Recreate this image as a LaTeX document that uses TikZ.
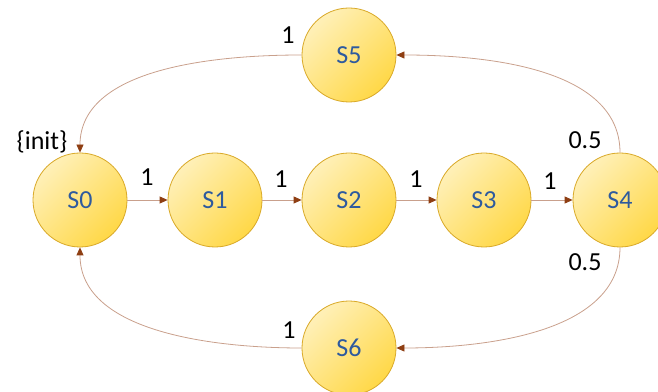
\documentclass[tikz,border=0pt]{standalone}
\usepackage{fontspec}
\setmainfont{Carlito}
\usetikzlibrary{arrows.meta}
\definecolor{stateLight}{HTML}{FFF0B8}
\definecolor{stateDark}{HTML}{FFD847}
\definecolor{stateEdge}{HTML}{D9A928}
\definecolor{stateText}{HTML}{2E5A9E}
\definecolor{wire}{HTML}{C9A08C}
\definecolor{tip}{HTML}{8E3E12}
\begin{document}
\begin{tikzpicture}[x=1pt,y=1pt,
  state/.style={circle, minimum size=94pt, inner sep=0pt, draw=stateEdge, line width=0.8pt,
    top color=stateLight, bottom color=stateDark, shading angle=45,
    text=stateText, font=\fontsize{26}{28}\selectfont},
  trans/.style={draw=wire, line width=0.8pt, -{Triangle[length=8pt,width=7pt,color=tip]}},
  lbl/.style={font=\fontsize{26}{28}\selectfont, text=black, inner sep=0pt}]
\useasboundingbox (0,0) rectangle (658,391);
\node[state] (S0) at (80,191) {S0};
\node[state] (S1) at (215,191) {S1};
\node[state] (S2) at (349,191) {S2};
\node[state] (S3) at (484,191) {S3};
\node[state] (S4) at (620,191) {S4};
\node[state] (S5) at (349,336) {S5};
\node[state] (S6) at (349,43) {S6};

\draw[trans] (S0) -- (S1);
\draw[trans] (S1) -- (S2);
\draw[trans] (S2) -- (S3);
\draw[trans] (S3) -- (S4);
\draw[trans] (S4.north) to[out=90,in=0,looseness=0.9] (S5.east);
\draw[trans] (S5.west) to[out=180,in=90,looseness=0.9] (S0.north);
\draw[trans] (S4.south) to[out=-90,in=0,looseness=0.9] (S6.east);
\draw[trans] (S6.west) to[out=180,in=-90,looseness=0.9] (S0.south);

\node[lbl] (linit) at (42,249) {\{init\}};
\node[lbl] (l01) at (147,214) {1};
\node[lbl] (l12) at (281,212) {1};
\node[lbl] (l23) at (416,212) {1};
\node[lbl] (l34) at (550,210) {1};
\node[lbl] (l45) at (585,251) {0.5};
\node[lbl] (l46) at (585,129) {0.5};
\node[lbl] (l50) at (288,356) {1};
\node[lbl] (l60) at (289,61) {1};
\end{tikzpicture}
\end{document}
